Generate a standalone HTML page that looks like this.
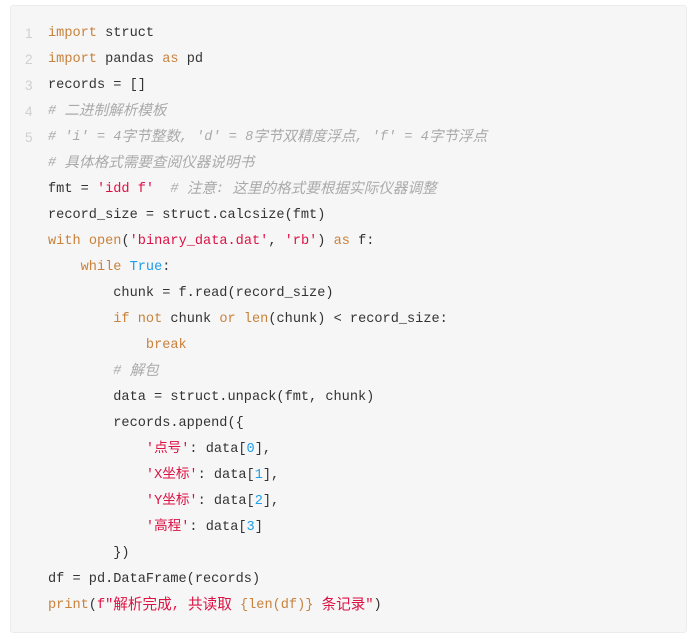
<!DOCTYPE html>
<html><head><meta charset="utf-8"><style>
html,body{margin:0;padding:0;background:#fff;width:690px;height:637px;overflow:hidden}
.box{position:absolute;left:10px;top:5px;width:675px;height:626px;background:#f6f6f6;border:1px solid #ececec;border-radius:3px}
.l{position:absolute;left:48px;height:26px;line-height:26px;font-family:"Liberation Mono","Noto Sans CJK SC",monospace;font-size:13.6px;color:#333;white-space:pre}
.n{position:absolute;left:25px;height:26px;line-height:26px;font-family:"Liberation Sans",sans-serif;font-size:13.6px;color:#d0d0d0}
.k{color:#c8823c}.s{color:#dd1144}.c{color:#aaa;font-style:italic}.b{color:#1e9de8}
.z{font-family:"Noto Sans CJK SC",sans-serif;font-size:14.6px;line-height:0;position:relative;top:1px}
</style></head><body>
<div class="box"></div>
<div style="position:absolute;left:0;top:2px;width:690px;height:637px">
<div class="n" style="top:19px">1</div>
<div class="n" style="top:45px">2</div>
<div class="n" style="top:71px">3</div>
<div class="n" style="top:97px">4</div>
<div class="n" style="top:123px">5</div>
<div class="l" style="top:19px"><span class="k">import</span> struct</div>
<div class="l" style="top:45px"><span class="k">import</span> pandas <span class="k">as</span> pd</div>
<div class="l" style="top:71px">records = []</div>
<div class="l c" style="top:97px"># <span class="z">二进制解析模板</span></div>
<div class="l c" style="top:123px"># 'i' = 4<span class="z">字节整数</span>, 'd' = 8<span class="z">字节双精度浮点</span>, 'f' = 4<span class="z">字节浮点</span></div>
<div class="l c" style="top:149px"># <span class="z">具体格式需要查阅仪器说明书</span></div>
<div class="l" style="top:175px">fmt = <span class="s">'idd f'</span>  <span class="c"># <span class="z">注意</span>: <span class="z">这里的格式要根据实际仪器调整</span></span></div>
<div class="l" style="top:201px">record_size = struct.calcsize(fmt)</div>
<div class="l" style="top:227px"><span class="k">with</span> <span class="k">open</span>(<span class="s">'binary_data.dat'</span>, <span class="s">'rb'</span>) <span class="k">as</span> f:</div>
<div class="l" style="top:253px">    <span class="k">while</span> <span class="b">True</span>:</div>
<div class="l" style="top:279px">        chunk = f.read(record_size)</div>
<div class="l" style="top:305px">        <span class="k">if</span> <span class="k">not</span> chunk <span class="k">or</span> <span class="k">len</span>(chunk) &lt; record_size:</div>
<div class="l" style="top:331px">            <span class="k">break</span></div>
<div class="l c" style="top:357px">        # <span class="z">解包</span></div>
<div class="l" style="top:383px">        data = struct.unpack(fmt, chunk)</div>
<div class="l" style="top:409px">        records.append({</div>
<div class="l" style="top:435px">            <span class="s">'点号'</span>: data[<span class="b">0</span>],</div>
<div class="l" style="top:461px">            <span class="s">'X坐标'</span>: data[<span class="b">1</span>],</div>
<div class="l" style="top:487px">            <span class="s">'Y坐标'</span>: data[<span class="b">2</span>],</div>
<div class="l" style="top:513px">            <span class="s">'高程'</span>: data[<span class="b">3</span>]</div>
<div class="l" style="top:539px">        })</div>
<div class="l" style="top:565px">df = pd.DataFrame(records)</div>
<div class="l" style="top:591px"><span class="k">print</span>(<span class="s">f"<span class="z">解析完成</span>, <span class="z">共读取</span> </span><span class="k">{len(df)}</span><span class="s"> <span class="z">条记录</span>"</span>)</div>
</div>
</body></html>
